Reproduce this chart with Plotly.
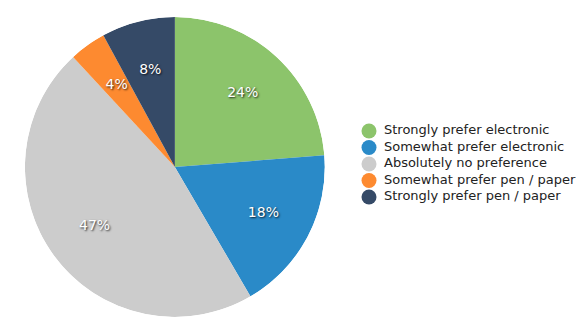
import plotly.graph_objects as go

categories = [
    "Strongly prefer electronic",
    "Somewhat prefer electronic",
    "Absolutely no preference",
    "Somewhat prefer pen / paper",
    "Strongly prefer pen / paper",
]
shares = [24, 18, 47, 4, 8]
colors = ["#8cc46b", "#2a8ac8", "#cccccc", "#fd8a30", "#354a67"]

font_family = "DejaVu Sans, Verdana, sans-serif"
pie_domain = dict(x=[0.043, 0.560], y=[0.05, 0.95])

# Angular extent and bisector of each slice (degrees clockwise from 12 o'clock)
total = sum(shares)
spans = [s / total * 360 for s in shares]
mid_angles = []
running = 0.0
for w in spans:
    mid_angles.append(running + w / 2)
    running += w

fig = go.Figure()

# Pie slices as full-radius polar wedges
fig.add_trace(go.Barpolar(
    r=[1] * len(shares),
    theta=mid_angles,
    width=spans,
    base=0,
    marker=dict(color=colors, line=dict(width=0)),
    customdata=categories,
    hovertemplate="%{customdata}<extra></extra>",
    showlegend=False,
))

# Percentage labels at two thirds of the radius, on each slice's bisector
fig.add_trace(go.Scatterpolar(
    r=[2 / 3] * len(shares),
    theta=mid_angles,
    mode="text",
    text=[f"{s}%" for s in shares],
    textposition="middle center",
    textfont=dict(family=font_family, size=14, color="white",
                  shadow="1px 1px 2px rgba(0,0,0,0.8)"),
    hoverinfo="skip",
    showlegend=False,
))

# Key: round swatches, one row per category
rows = [-i for i in range(len(categories))]
fig.add_trace(go.Scatter(
    x=[0] * len(categories), y=rows,
    mode="markers",
    marker=dict(symbol="circle", size=15, color=colors),
    hoverinfo="skip",
    showlegend=False,
    cliponaxis=False,
))
# Category names beside the swatches
fig.add_trace(go.Scatter(
    x=[15] * len(categories), y=rows,
    mode="text",
    text=categories,
    textposition="middle right",
    textfont=dict(family=font_family, size=13, color="#222222"),
    hoverinfo="skip",
    showlegend=False,
    cliponaxis=False,
))

fig.update_layout(
    width=580, height=334,
    margin=dict(l=0, r=0, t=0, b=0),
    paper_bgcolor="white",
    plot_bgcolor="rgba(0,0,0,0)",
    showlegend=False,
    polar=dict(
        domain=pie_domain,
        bgcolor="rgba(0,0,0,0)",
        bargap=0,
        radialaxis=dict(visible=False, range=[0, 1]),
        angularaxis=dict(visible=False, rotation=90, direction="clockwise"),
    ),
    xaxis=dict(visible=False, domain=[0.6, 1.0], range=[-21, 211],
               fixedrange=True),
    yaxis=dict(visible=False, domain=[0, 1], range=[-12.30, 7.94],
               fixedrange=True),
)

fig.write_html("out.html")
